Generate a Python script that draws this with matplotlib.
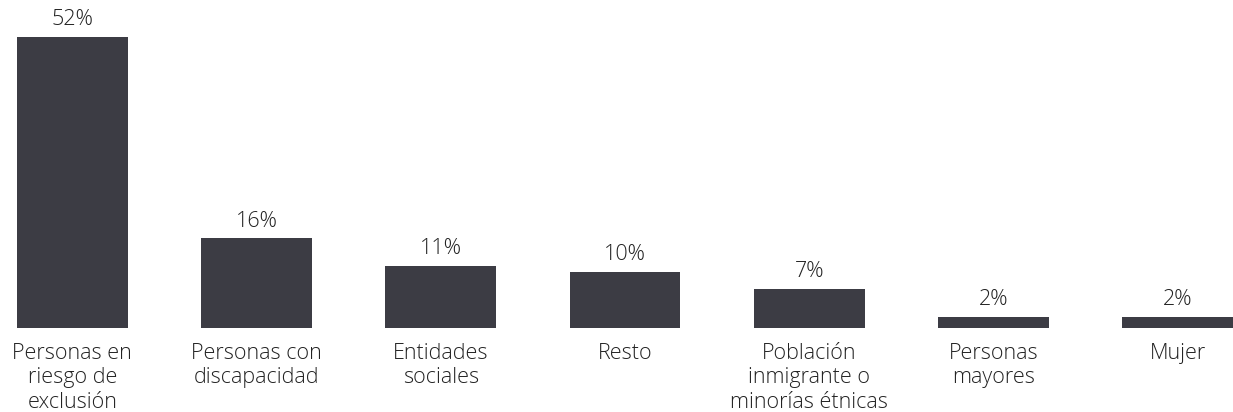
import matplotlib.pyplot as plt

categorias = ["Personas en\nriesgo de\nexclusión", "Personas con\ndiscapacidad", "Entidades\nsociales",
              "Resto", "Población\ninmigrante o\nminorías étnicas", "Personas\nmayores", "Mujer"]
valores = [52, 16, 11, 10, 7, 2, 2]
etiquetas = ["52%", "16%", "11%", "10%", "7%", "2%", "2%"]

plt.rcParams['font.family'] = ['Open Sans', 'DejaVu Sans']

fig = plt.figure(figsize=(12.33, 4.12), dpi=100)
ax = fig.add_axes([0, 84 / 412, 1, 291 / 412])

x = range(len(valores))
bars = ax.bar(x, valores, width=0.6, color="#3c3c44")
for b, t in zip(bars, etiquetas):
    ax.annotate(t, (b.get_x() + b.get_width() / 2, b.get_height()), xytext=(0, 5),
                textcoords="offset points", ha="center", va="bottom",
                fontsize=15.5, fontweight="light", color="#222222")

ax.set_xticks(list(x))
ax.set_xticklabels(categorias, fontsize=15.5, fontweight="light", color="#222222", linespacing=1.22)
ax.tick_params(axis="x", length=0, pad=10.5)
ax.set_yticks([])
for s in ax.spines.values():
    s.set_visible(False)
ax.set_xlim(-0.392, 6.3)
ax.set_ylim(0, 52)

fig.savefig("out.png", dpi=100)
